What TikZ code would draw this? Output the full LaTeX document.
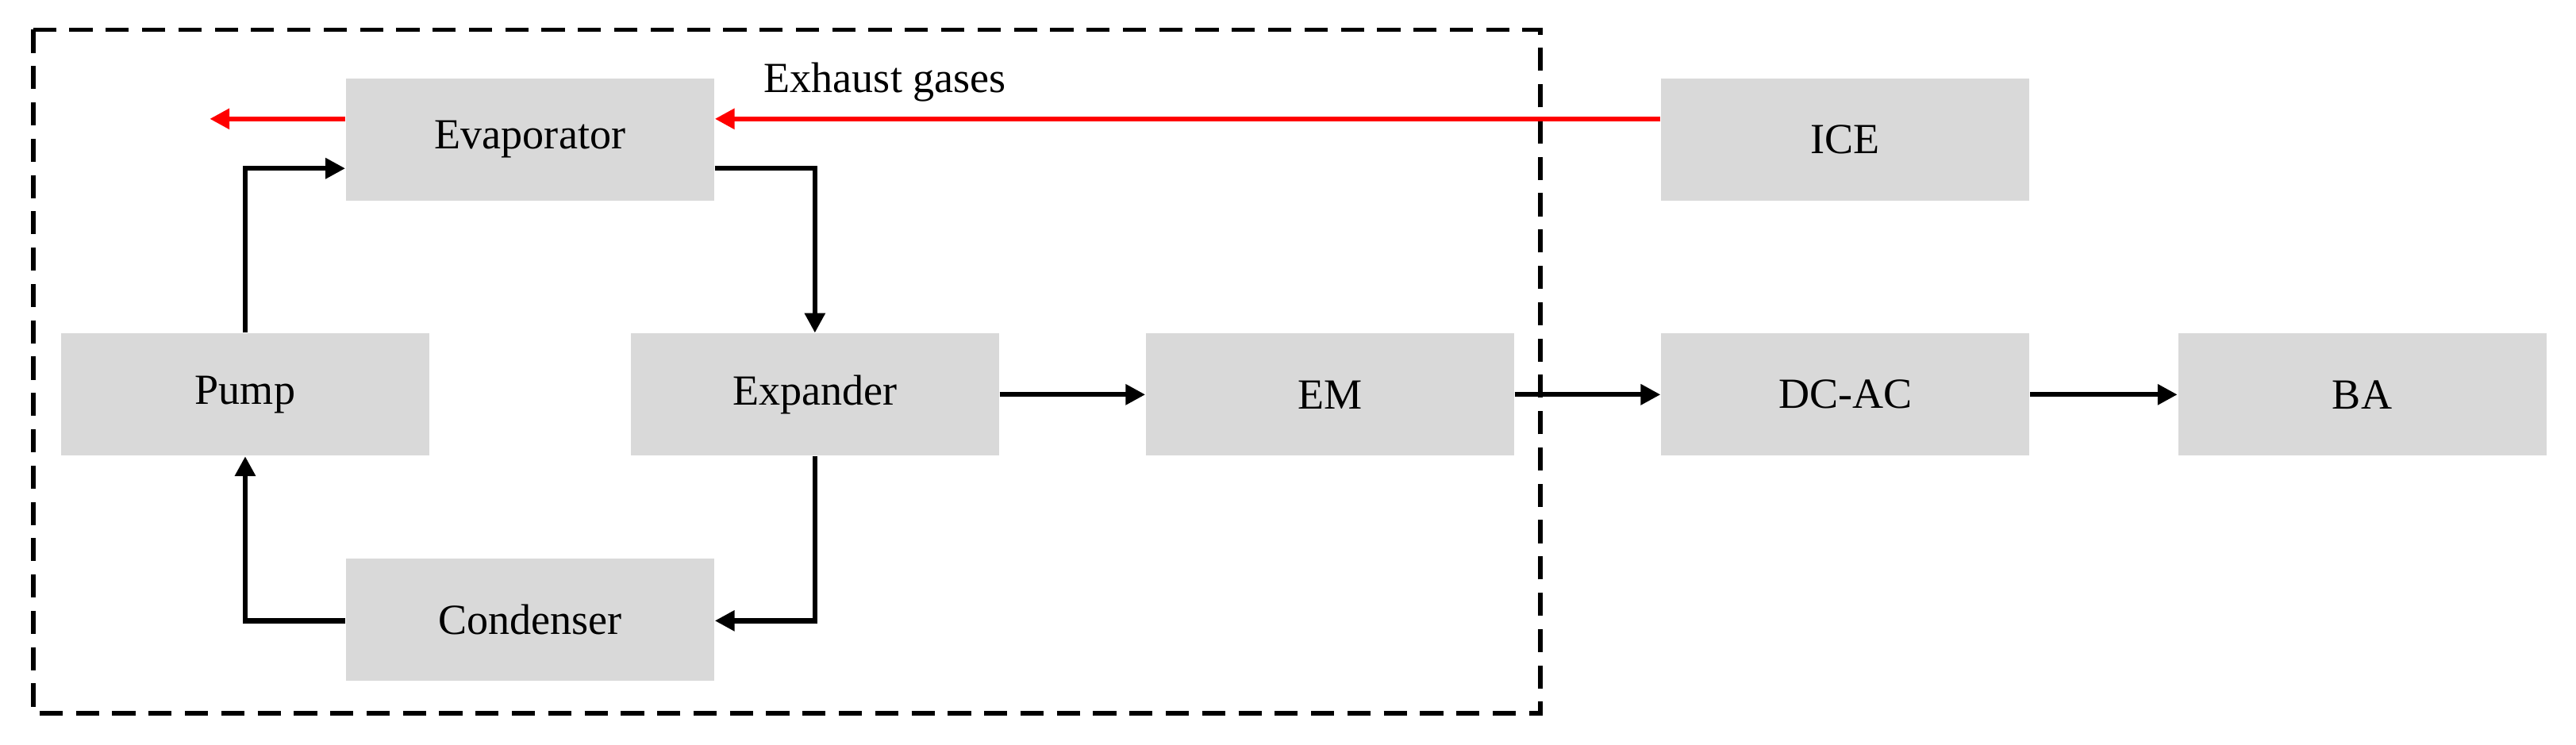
\documentclass[tikz,border=0pt]{standalone}
\usepackage{fontspec}
\setmainfont{Liberation Serif}
\usetikzlibrary{arrows.meta}
\begin{document}
\begin{tikzpicture}[x=0.5pt,y=-0.5pt,
  blk/.style={fill=black!15,draw=none,minimum width=111.5pt,minimum height=37pt,inner sep=0pt,font=\fontsize{13}{15}\selectfont},
  flow/.style={line width=1.5pt,-{Triangle[length=6pt,width=6pt]}},
  hot/.style={flow,red}]
\useasboundingbox (0,0) rectangle (1560,451);
\draw[dashed,line width=1.4pt,dash pattern=on 7pt off 4pt] (20,18) rectangle (933,432);
\node[blk] (evap) at (321,84.5) {Evaporator};
\node[blk] (ice) at (1117.5,84.5) {ICE};
\node[blk] (pump) at (148.5,239) {Pump};
\node[blk] (exp) at (493.5,239) {Expander};
\node[blk] (em) at (805.5,239) {EM};
\node[blk] (dcac) at (1117.5,239) {DC-AC};
\node[blk] (ba) at (1430.5,239) {BA};
\node[blk] (cond) at (321,375.5) {Condenser};
\coordinate (out) at (127,72);
\draw[hot] (ice.west |- 0,72) -- (evap.east |- 0,72) node[pos=0.82,above=1pt,black,font=\fontsize{13}{15}\selectfont] {Exhaust gases};
\draw[hot] (evap.west |- 0,72) -- (out);
\draw[flow] (pump.north) -- (148.5,102) -- (evap.west |- 0,102);
\draw[flow] (evap.east |- 0,102) -- (493.5,102) -- (exp.north);
\draw[flow] (exp.south) -- (493.5,376) -- (cond.east |- 0,376);
\draw[flow] (cond.west |- 0,376) -- (148.5,376) -- (pump.south);
\draw[flow] (exp) -- (em);
\draw[flow] (em) -- (dcac);
\draw[flow] (dcac) -- (ba);
\end{tikzpicture}
\end{document}
